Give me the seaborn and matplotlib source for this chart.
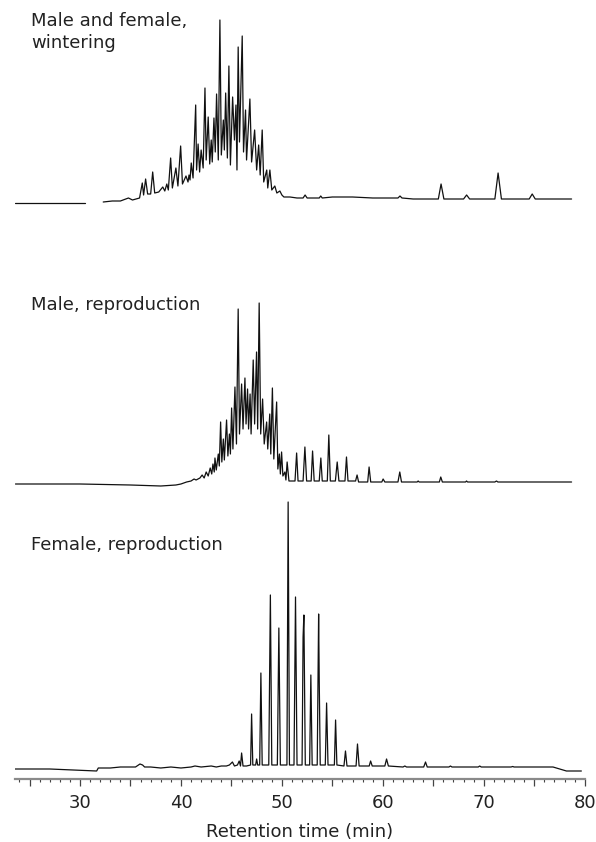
import seaborn as sns
import matplotlib.pyplot as plt
import pandas as pd
from matplotlib.ticker import MultipleLocator, FuncFormatter

# chromatogram traces (signal in arbitrary units)
top_gap_rt = [23.6, 30.5]
top_gap_sig = [-1, -1]

top_rt = [32.3, 33.2, 34.0, 34.8, 35.2, 35.9, 36.17, 36.3, 36.5, 36.7, 37.0, 37.2, 37.4, 37.8, 38.2,
          38.4, 38.6, 38.75, 38.98, 39.15, 39.5, 39.7, 39.97, 40.15, 40.5, 40.7, 40.8, 40.9, 41.02,
          41.2, 41.46, 41.55, 41.7, 41.85, 42.0, 42.2, 42.38, 42.5, 42.7, 42.85, 43.0, 43.1, 43.27,
          43.4, 43.53, 43.7, 43.86, 44.0, 44.2, 44.3, 44.43, 44.6, 44.75, 44.9, 45.12, 45.3, 45.45,
          45.55, 45.67, 45.8, 46.07, 46.2, 46.4, 46.5, 46.83, 47.0, 47.3, 47.5, 47.7, 47.85, 48.05,
          48.2, 48.5, 48.6, 48.81, 49.0, 49.3, 49.5, 49.8, 50.0, 50.2, 50.8, 51.5, 52.1, 52.3, 52.5,
          53.0, 53.7, 53.85, 54.0, 55.0, 57.0, 59.0, 61.5, 61.7, 61.9, 63.0, 65.5, 65.77, 66.05,
          68.0, 68.3, 68.6, 71.1, 71.42, 71.75, 74.5, 74.8, 75.1, 77.0, 78.7]
top_sig = [0, 1, 1, 4, 2, 4, 19, 7, 23, 8, 8, 30, 9, 10, 15,
           11, 18, 12, 44, 14, 34, 16, 56, 18, 26, 20, 27, 22, 39,
           24, 97, 32, 58, 30, 52, 34, 114, 42, 85, 38, 62, 40, 84,
           50, 108, 42, 182, 47, 82, 52, 109, 44, 136, 37, 105, 62, 97,
           32, 155, 60, 166, 50, 92, 42, 103, 40, 72, 32, 57, 27, 72,
           20, 32, 14, 32, 12, 16, 9, 11, 7, 5, 5, 4, 4, 7, 4,
           4, 4, 6, 4, 5, 5, 4, 4, 6, 4, 3, 3, 18, 3,
           3, 7, 3, 3, 29, 3, 3, 8, 3, 3, 3]

mid_rt = [23.6, 30.0, 35.0, 38.0, 39.5, 40.0, 40.56, 41.0, 41.3, 41.5, 41.88, 42.1, 42.3, 42.5, 42.7,
          42.9, 43.05, 43.17, 43.3, 43.37, 43.5, 43.7, 43.8, 43.93, 44.05, 44.2, 44.3, 44.52, 44.65,
          44.8, 44.9, 45.02, 45.15, 45.35, 45.5, 45.67, 45.8, 46.01, 46.15, 46.34, 46.45, 46.6, 46.7,
          46.85, 46.95, 47.16, 47.3, 47.49, 47.6, 47.75, 47.9, 48.09, 48.25, 48.49, 48.6, 48.8, 48.9,
          49.06, 49.2, 49.48, 49.6, 49.75, 49.85, 49.97, 50.1, 50.3, 50.4, 50.52, 50.7, 51.3, 51.46,
          51.6, 52.1, 52.28, 52.45, 52.9, 53.04, 53.2, 53.7, 53.86, 54.0, 54.5, 54.65, 54.8, 55.3,
          55.48, 55.65, 56.25, 56.4, 56.55, 57.3, 57.45, 57.6, 58.5, 58.64, 58.8, 59.9, 60.03, 60.2,
          61.5, 61.68, 61.85, 63.4, 63.5, 63.6, 65.6, 65.74, 65.9, 68.2, 68.29, 68.4, 71.1, 71.26,
          71.4, 78.7]
mid_sig = [0, 0, -1, -2, -1, 0, 2, 3, 5, 4, 6, 9, 6, 12, 8,
           16, 10, 20, 12, 26, 14, 30, 18, 62, 22, 45, 24, 64, 28,
           50, 30, 76, 35, 97, 40, 175, 50, 100, 55, 106, 60, 95, 55,
           90, 50, 124, 60, 132, 55, 181, 50, 85, 40, 62, 35, 70, 30,
           96, 25, 82, 15, 30, 10, 32, 8, 12, 4, 22, 3, 3, 31,
           3, 3, 37, 3, 3, 33, 3, 3, 26, 3, 3, 49, 3, 3,
           22, 3, 3, 27, 3, 3, 9, 2, 2, 17, 2, 2, 5, 2,
           2, 12, 2, 2, 3, 2, 2, 7, 2, 2, 3, 2, 2, 3,
           2, 2]

bot_rt = [23.56, 27.0, 31.65, 31.81, 33.0, 34.0, 35.5, 35.94, 36.2, 36.4, 37.0, 38.0, 39.0, 40.0,
          41.0, 41.39, 42.0, 43.0, 43.5, 44.0, 44.5, 44.8, 45.1, 45.3, 45.6, 45.77, 45.9, 46.01,
          46.15, 46.5, 46.9, 47.0, 47.12, 47.4, 47.5, 47.6, 47.8, 47.92, 48.05, 48.7, 48.86, 49.0,
          49.55, 49.7, 49.85, 50.5, 50.62, 50.75, 51.2, 51.35, 51.5, 52.0, 52.1, 52.18, 52.32,
          52.75, 52.87, 53.0, 53.5, 53.64, 53.7, 53.8, 54.3, 54.43, 54.57, 55.2, 55.32, 55.45,
          56.15, 56.3, 56.45, 57.35, 57.49, 57.65, 58.65, 58.79, 58.95, 60.2, 60.37, 60.55, 62.0,
          62.18, 62.35, 64.05, 64.23, 64.4, 66.55, 66.7, 66.85, 69.45, 69.6, 69.75, 72.7, 72.87,
          73.0, 76.86, 78.19, 79.67]
bot_sig = [-1, -1, -3, 0, 0, 1, 1, 4, 3, 1, 1, 0, 1, 0,
           1, 2, 1, 2, 1, 2, 2, 3, 6, 2, 3, 7, 2, 15,
           2, 2, 3, 54, 3, 3, 9, 3, 3, 95, 3, 3, 173, 3,
           3, 140, 3, 3, 266, 3, 3, 171, 3, 3, 131, 153, 3,
           3, 93, 3, 3, 154, 88, 3, 3, 65, 3, 3, 48, 3,
           2, 17, 2, 2, 24, 2, 2, 7, 2, 2, 9, 2, 1,
           2, 1, 1, 6, 1, 1, 2, 1, 1, 2, 1, 1, 1.5,
           1, 1, -3, -3]

labels = ['Male and female,\nwintering', 'Male, reproduction', 'Female, reproduction']

sns.set_style('white')
plt.rcParams['font.family'] = ['DejaVu Sans']

fig = plt.figure(figsize=(5.96, 8.42), dpi=100)
ax = fig.add_axes([15 / 596, 1 - 779 / 842, 569.7 / 596, 779 / 842])

# vertical offset of each trace inside the shared axes
traces = [
    (top_gap_rt, top_gap_sig, 577),
    (top_rt, top_sig, 577),
    (mid_rt, mid_sig, 295),
    (bot_rt, bot_sig, 11),
]
for rt, sig, off in traces:
    df = pd.DataFrame({'rt': rt, 'sig': [s + off for s in sig]})
    sns.lineplot(data=df, x='rt', y='sig', sort=False, estimator=None,
                 color='#111111', lw=0.9, ax=ax)

ax.set_xlim(23.56, 80)
ax.set_ylim(0, 779)
ax.set_yticks([])
ax.set_ylabel('')
for s in ['left', 'top', 'right']:
    ax.spines[s].set_visible(False)
ax.spines['bottom'].set_color('#8a8a8a')
ax.spines['bottom'].set_linewidth(1.6)

ax.xaxis.set_major_locator(MultipleLocator(5))
ax.xaxis.set_minor_locator(MultipleLocator(1))
ax.xaxis.set_major_formatter(FuncFormatter(lambda v, p: f'{v:.0f}' if v % 10 == 0 else ''))
ax.tick_params(axis='x', which='major', direction='out', length=4.8, width=0.9,
               color='#444444', labelsize=13, labelcolor='#222222', pad=6)
ax.tick_params(axis='x', which='minor', direction='out', length=2.4, width=0.8,
               color='#444444')
ax.tick_params(axis='x', which='both', bottom=True)
ax.set_xlabel('Retention time (min)', fontsize=13, color='#222222', labelpad=8)

fig.text(31 / 596, 1 - 12 / 842, labels[0], fontsize=13, color='#222222',
         va='top', ha='left', linespacing=1.25)
fig.text(31 / 596, 1 - 305 / 842, labels[1], fontsize=13, color='#222222',
         va='center', ha='left')
fig.text(31 / 596, 1 - 545 / 842, labels[2], fontsize=13, color='#222222',
         va='center', ha='left')

fig.savefig('out.png', dpi=100)
